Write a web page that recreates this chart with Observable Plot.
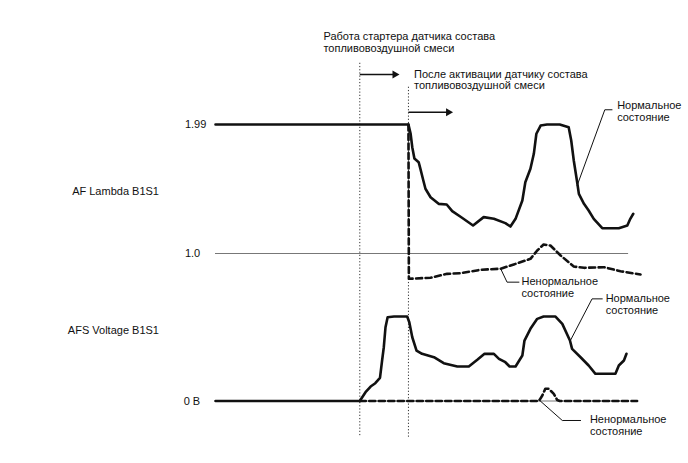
<!DOCTYPE html>
<html><head><meta charset="utf-8">
<script src="https://cdn.jsdelivr.net/npm/d3@7"></script>
<script src="https://cdn.jsdelivr.net/npm/@observablehq/plot@0.6"></script>
<style>body{margin:0;background:#fff}</style>
</head><body><div id="chart"></div>
<script>
// time in arbitrary units (0..100); lambda in λ; voltage in volts
const lambdaNormal = [[0,1.99],[45.4,1.99],[45.9,1.921],[46.3,1.816],[46.8,1.729],[47.8,1.701],[48.2,1.652],[48.9,1.56],[49.4,1.497],[50.6,1.432],[52.5,1.381],[54.4,1.376],[55.7,1.325],[58.0,1.274],[60.6,1.215],[63.1,1.279],[65.5,1.266],[68.2,1.233],[69.4,1.207],[70.6,1.266],[72.2,1.407],[72.9,1.547],[74.1,1.65],[74.9,1.765],[75.5,1.919],[76.5,1.982],[78.0,1.99],[81.0,1.99],[83.1,1.969],[83.7,1.867],[84.3,1.714],[85.1,1.547],[85.5,1.458],[86.7,1.381],[87.8,1.33],[89.0,1.266],[91.0,1.194],[94.9,1.194],[96.9,1.215],[97.6,1.266],[98.3,1.305]];
const lambdaAbnormal = [[45.4,1.99],[45.5,0.806],[50.6,0.814],[54.5,0.844],[57.6,0.849],[62.4,0.875],[67.1,0.883],[70.2,0.916],[74.1,0.959],[75.7,1.023],[77.2,1.069],[78.8,1.061],[81.2,0.985],[84.3,0.9],[86.7,0.89],[91.4,0.895],[95.3,0.864],[100,0.839]];
const voltageNormal = [[0,0],[33.95,0],[35.3,0.088],[36.5,0.145],[37.6,0.178],[38.7,0.232],[39.2,0.405],[39.6,0.538],[40.0,0.738],[40.5,0.838],[42.0,0.845],[45.1,0.845],[45.6,0.788],[46.3,0.638],[47.3,0.505],[48.6,0.472],[51.4,0.438],[53.7,0.378],[56.9,0.345],[59.6,0.345],[61.6,0.412],[63.3,0.472],[65.5,0.472],[66.7,0.422],[68.2,0.388],[69.2,0.345],[70.6,0.345],[72.2,0.455],[72.7,0.605],[74.1,0.722],[75.7,0.822],[77.2,0.845],[80.0,0.845],[81.6,0.772],[83.4,0.605],[83.9,0.522],[85.9,0.438],[87.8,0.355],[89.4,0.272],[94.1,0.272],[94.9,0.355],[96.1,0.405],[96.7,0.472]];
const voltageAbnormal = [[33.95,0],[76.1,0],[76.9,0.055],[77.6,0.122],[78.4,0.122],[79.6,0.072],[80.4,0.01],[81.0,0],[99.2,0]];
const eventTimes = [33.95, 45.4];            // starter work begins, sensor activated
const lambdaTicks = [1.99, 1.0];
const lambdaTickLabels = ["1.99", "1.0"];
const voltageTicks = [0];
const voltageTickLabels = ["0 В"];
const rowLabels = ["AF Lambda B1S1", "AFS Voltage B1S1"];
const phaseLabels = ["Работа стартера датчика состава\nтопливовоздушной смеси", "После активации датчику состава\nтопливовоздушной смеси"];
const normalLabel = "Нормальное\nсостояние";
const abnormalLabel = "Ненормальное\nсостояние";

// voltage drawn in lower band of the shared vertical scale
const V_BASE = -0.132, V_GAIN = 0.767;
const vy = v => V_BASE + V_GAIN * v;
const T_END_BASE = 97.2;

const font = "'Liberation Sans', Arial, sans-serif";
const ink = "#111";

const leaders = [
  {id: "ln", pts: [[93.3, 2.103], [91.6, 2.103], [85.1, 1.522]]},
  {id: "la", pts: [[67.1, 0.883], [68.6, 0.780], [71.4, 0.780]]},
  {id: "vn", pts: [[91.0, vy(1.022)], [88.6, vy(1.022)], [83.5, vy(0.605)]]},
  {id: "va", pts: [[76.1, vy(0.012)], [81.6, vy(-0.195)], [85.9, vy(-0.195)]]}
].flatMap(d => d.pts.map(p => ({id: d.id, t: p[0], y: p[1]})));

const arrows = [
  {t1: eventTimes[0], t2: 42.2, y: 2.374},
  {t1: eventTimes[1], t2: 54.8, y: 2.084}
];

const txt = {fontFamily: font, fontSize: 11, fill: ink, lineHeight: 1.08};

const chart = Plot.plot({
  width: 688, height: 463,
  x: {domain: [0, 100], range: [215, 640], axis: null},
  y: {domain: [1.99, 1.0], range: [124, 253], axis: null},
  style: {fontFamily: font, background: "#fff"},
  marks: [
    // dotted event lines
    Plot.ruleX([eventTimes[0]], {x: d => d, y1: 2.460, y2: -0.412, stroke: "#333", strokeWidth: 1, strokeDasharray: "1.2,2"}),
    Plot.ruleX([eventTimes[1]], {x: d => d, y1: 2.276, y2: -0.412, stroke: "#333", strokeWidth: 1, strokeDasharray: "1.2,2"}),
    // thin reference baselines
    Plot.ruleY([lambdaTicks[1]], {y: d => d, x1: 0, x2: T_END_BASE, stroke: "#777", strokeWidth: 1}),
    Plot.ruleY(voltageTicks, {y: d => vy(d), x1: 0, x2: T_END_BASE, stroke: "#777", strokeWidth: 1}),
    // abnormal (dashed)
    Plot.line(lambdaAbnormal, {x: d => d[0], y: d => d[1], stroke: ink, strokeWidth: 2.6, strokeDasharray: "6,3.5", strokeLinejoin: "round"}),
    Plot.line(voltageAbnormal, {x: d => d[0], y: d => vy(d[1]), stroke: ink, strokeWidth: 2.6, strokeDasharray: "6,3.5", strokeLinejoin: "round"}),
    // normal (solid)
    Plot.line(lambdaNormal, {x: d => d[0], y: d => d[1], stroke: ink, strokeWidth: 2.6, strokeLinejoin: "round"}),
    Plot.line(voltageNormal, {x: d => d[0], y: d => vy(d[1]), stroke: ink, strokeWidth: 2.6, strokeLinejoin: "round"}),
    // leader lines
    Plot.line(leaders, {x: "t", y: "y", z: "id", stroke: ink, strokeWidth: 1}),
    // arrows
    Plot.link(arrows, {x1: "t1", x2: "t2", y1: "y", y2: "y", stroke: ink, strokeWidth: 1.6}),
    Plot.dot(arrows, {x: "t2", y: "y", symbol: "triangle", rotate: 90, r: 3, fill: ink, stroke: null}),
    // tick labels
    Plot.text(lambdaTicks, {x: -7.2, y: d => d, text: (d, i) => lambdaTickLabels[i], textAnchor: "start", ...txt}),
    Plot.text(voltageTicks, {x: -7.5, y: d => vy(d), text: (d, i) => voltageTickLabels[i], textAnchor: "start", ...txt}),
    // row labels
    Plot.text([rowLabels[0]], {x: -13.3, y: 1.478, text: d => d, textAnchor: "end", ...txt}),
    Plot.text([rowLabels[1]], {x: -13.3, y: vy(0.705), text: d => d, textAnchor: "end", ...txt}),
    // phase labels
    Plot.text([phaseLabels[0]], {x: 25.4, y: 2.622, text: d => d, textAnchor: "start", ...txt}),
    Plot.text([phaseLabels[1]], {x: 46.7, y: 2.334, text: d => d, textAnchor: "start", ...txt}),
    // state labels
    Plot.text([normalLabel], {x: 94.5, y: 2.091, text: d => d, textAnchor: "start", ...txt}),
    Plot.text([abnormalLabel], {x: 72.0, y: 0.739, text: d => d, textAnchor: "start", ...txt}),
    Plot.text([normalLabel], {x: 91.8, y: vy(0.97), text: d => d, textAnchor: "start", ...txt}),
    Plot.text([abnormalLabel], {x: 88.1, y: vy(-0.245), text: d => d, textAnchor: "start", ...txt})
  ]
});
document.getElementById("chart").append(chart);
</script>
</body></html>
